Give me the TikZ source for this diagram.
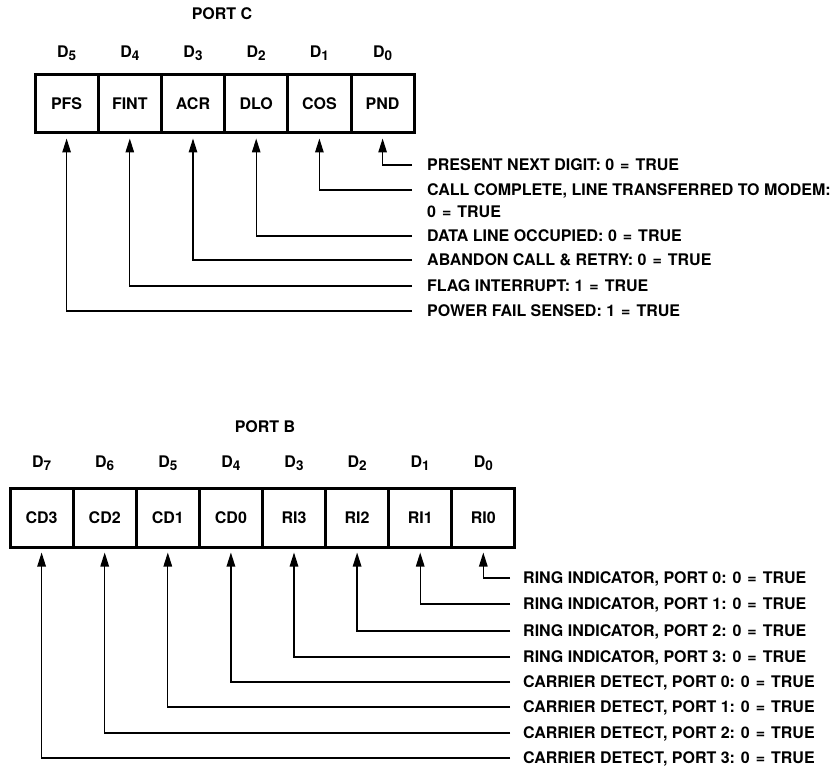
\documentclass[tikz,border=0pt]{standalone}
\usepackage{fontspec}
\setmainfont{TeX Gyre Heros}
\usetikzlibrary{arrows.meta}
\newcommand{\dsub}[1]{D\raisebox{-3pt}{\fontsize{13.5}{13.5}\selectfont #1}}
\newcommand{\eqt}{\hspace{6pt}=\hspace{6pt}}
\begin{document}
\begin{tikzpicture}[x=1pt,y=-1pt,
  txt/.style={font=\fontsize{16}{19}\selectfont\bfseries, inner sep=0pt, text height=11.4pt, text depth=0pt},
  cell/.style={draw, line width=3pt, minimum width=63.2pt, minimum height=58pt, inner sep=0pt, txt},
  lbl/.style={txt, anchor=west, inner xsep=15pt},
  conn/.style={line width=1.3pt, -{Triangle[length=14pt,width=8.5pt]}, shorten >=4pt},
]
\useasboundingbox (0,0) rectangle (837,770);

% ---------------- PORT C ----------------
\node[txt] (titleC) at (222,14) {PORT C};
\foreach \n/\i in {PFS/5,FINT/4,ACR/3,DLO/2,COS/1,PND/0}{
  \pgfmathsetmacro{\xx}{66.6+63.2*(5-\i)}
  \node[txt] (dc\i) at (\xx,52) {\dsub{\i}};
  \node[cell] (c\i) at (\xx,104) {\n};
}
\node[lbl] (lc0) at (412,165) {PRESENT NEXT DIGIT: 0\eqt TRUE};
\node[lbl] (lc1) at (412,190) {CALL COMPLETE, LINE TRANSFERRED TO MODEM:};
\node[lbl] (lc1b) at (412,212) {0\eqt TRUE};
\node[lbl] (lc2) at (412,236) {DATA LINE OCCUPIED: 0\eqt TRUE};
\node[lbl] (lc3) at (412,260) {ABANDON CALL \& RETRY: 0\eqt TRUE};
\node[lbl] (lc4) at (412,286) {FLAG INTERRUPT: 1\eqt TRUE};
\node[lbl] (lc5) at (412,311) {POWER FAIL SENSED: 1\eqt TRUE};
\foreach \i in {0,...,5}{
  \draw[conn] (lc\i.west) -| (c\i.south);
}

% ---------------- PORT B ----------------
\node[txt] (titleB) at (265,427) {PORT B};
\foreach \n/\i in {CD3/7,CD2/6,CD1/5,CD0/4,RI3/3,RI2/2,RI1/1,RI0/0}{
  \pgfmathsetmacro{\xx}{41.6+63.1*(7-\i)}
  \node[txt] (db\i) at (\xx,462) {\dsub{\i}};
  \node[cell, minimum width=63.1pt, minimum height=59pt] (b\i) at (\xx,517.5) {\n};
}
\node[lbl, inner xsep=13pt] (lb0) at (510,578) {RING INDICATOR, PORT 0: 0\eqt TRUE};
\node[lbl, inner xsep=13pt] (lb1) at (510,604) {RING INDICATOR, PORT 1: 0\eqt TRUE};
\node[lbl, inner xsep=13pt] (lb2) at (510,631) {RING INDICATOR, PORT 2: 0\eqt TRUE};
\node[lbl, inner xsep=13pt] (lb3) at (510,657) {RING INDICATOR, PORT 3: 0\eqt TRUE};
\node[lbl, inner xsep=13pt] (lb4) at (510,682) {CARRIER DETECT, PORT 0: 0\eqt TRUE};
\node[lbl, inner xsep=13pt] (lb5) at (510,707) {CARRIER DETECT, PORT 1: 0\eqt TRUE};
\node[lbl, inner xsep=13pt] (lb6) at (510,733) {CARRIER DETECT, PORT 2: 0\eqt TRUE};
\node[lbl, inner xsep=13pt] (lb7) at (510,758) {CARRIER DETECT, PORT 3: 0\eqt TRUE};
\foreach \i in {0,...,7}{
  \draw[conn] (lb\i.west) -| (b\i.south);
}
\end{tikzpicture}
\end{document}
